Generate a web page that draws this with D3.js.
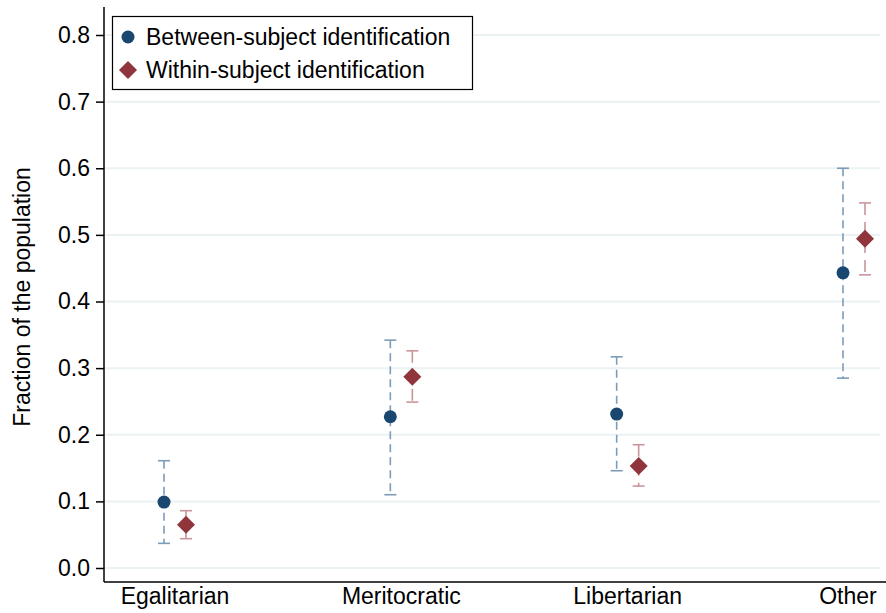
<!DOCTYPE html>
<html>
<head>
<meta charset="utf-8">
<script src="https://cdn.jsdelivr.net/npm/d3@7"></script>
<style>
  body { margin: 0; background: #fff; }
  text { font-family: "Liberation Sans", Arial, sans-serif; fill: #000; }
</style>
</head>
<body>
<div id="chart"></div>
<script>
const categories = ["Egalitarian", "Meritocratic", "Libertarian", "Other"];
const yTicks = [0, 0.1, 0.2, 0.3, 0.4, 0.5, 0.6, 0.7, 0.8];

const betweenValues = [0.099, 0.227, 0.231, 0.443];
const betweenLow = [0.037, 0.110, 0.146, 0.285];
const betweenHigh = [0.161, 0.342, 0.317, 0.600];

const withinValues = [0.065, 0.287, 0.153, 0.494];
const withinLow = [0.044, 0.249, 0.123, 0.440];
const withinHigh = [0.086, 0.326, 0.185, 0.548];

const width = 886, height = 613;
const plotLeft = 104, plotTop = 7, plotBottom = 582;
const fontSize = "23px";

const svg = d3.select("#chart").append("svg")
    .attr("width", width)
    .attr("height", height);

const x = d3.scalePoint()
    .domain(categories)
    .range([175, 854]);

const y = d3.scaleLinear()
    .domain([0, 0.8])
    .range([568, 35]);

// gridlines
svg.append("g")
    .selectAll("line")
    .data(yTicks)
    .join("line")
    .attr("x1", plotLeft + 1)
    .attr("x2", 880)
    .attr("y1", d => y(d))
    .attr("y2", d => y(d))
    .attr("stroke", "#eaf2f3")
    .attr("stroke-width", 2);

// y axis
const yAxis = svg.append("g")
    .attr("transform", `translate(${plotLeft},0)`)
    .call(d3.axisLeft(y).tickValues(yTicks).tickFormat(d3.format(".1f")).tickSize(8).tickPadding(6));
yAxis.select(".domain").remove();
yAxis.selectAll(".tick line").attr("stroke", "#000").attr("stroke-width", 1.5);
yAxis.selectAll(".tick text").style("font-size", fontSize).style("font-family", "Liberation Sans, Arial, sans-serif");

svg.append("line")
    .attr("x1", plotLeft).attr("x2", plotLeft)
    .attr("y1", plotTop).attr("y2", plotBottom)
    .attr("stroke", "#000").attr("stroke-width", 1.5);
svg.append("line")
    .attr("x1", plotLeft).attr("x2", width)
    .attr("y1", plotBottom).attr("y2", plotBottom)
    .attr("stroke", "#000").attr("stroke-width", 1.5);

// x labels
svg.append("g")
    .selectAll("text")
    .data(categories)
    .join("text")
    .attr("x", d => d === "Other" ? x(d) - 6 : x(d))
    .attr("y", 604)
    .attr("text-anchor", "middle")
    .style("font-size", fontSize)
    .text(d => d);

// y title
svg.append("text")
    .attr("transform", `translate(30,297) rotate(-90)`)
    .attr("text-anchor", "middle")
    .style("font-size", fontSize)
    .text("Fraction of the population");

function drawSeries(vals, lo, hi, offset, barColor, dash, cls) {
    const g = svg.append("g").attr("class", cls);
    const data = categories.map((c, i) => ({ c, v: vals[i], lo: lo[i], hi: hi[i] }));
    const cx = d => x(d.c) + offset;
    g.selectAll(".bar").data(data).join("line")
        .attr("x1", cx).attr("x2", cx)
        .attr("y1", d => y(d.hi)).attr("y2", d => y(d.lo))
        .attr("stroke", barColor).attr("stroke-width", 1.6)
        .attr("stroke-dasharray", dash);
    g.selectAll(".capHi").data(data).join("line")
        .attr("x1", d => cx(d) - 6).attr("x2", d => cx(d) + 6)
        .attr("y1", d => y(d.hi)).attr("y2", d => y(d.hi))
        .attr("stroke", barColor).attr("stroke-width", 1.6);
    g.selectAll(".capLo").data(data).join("line")
        .attr("x1", d => cx(d) - 6).attr("x2", d => cx(d) + 6)
        .attr("y1", d => y(d.lo)).attr("y2", d => y(d.lo))
        .attr("stroke", barColor).attr("stroke-width", 1.6);
    return { g, data, cx };
}

const b = drawSeries(betweenValues, betweenLow, betweenHigh, -11, "#7d9cb8", "8,5", "between");
b.g.selectAll("circle").data(b.data).join("circle")
    .attr("cx", b.cx).attr("cy", d => y(d.v)).attr("r", 6.5)
    .attr("fill", "#1a476f");

const w = drawSeries(withinValues, withinLow, withinHigh, 11, "#c9969b", "12,7", "within");
w.g.selectAll("path").data(w.data).join("path")
    .attr("transform", d => `translate(${w.cx(d)},${y(d.v)})`)
    .attr("d", "M0,-9L9,0L0,9L-9,0Z")
    .attr("fill", "#90353b");

// legend
const legend = svg.append("g");
legend.append("rect")
    .attr("x", 112.5).attr("y", 16.5)
    .attr("width", 360).attr("height", 73)
    .attr("fill", "#fff").attr("stroke", "#000").attr("stroke-width", 1.2);
legend.append("circle")
    .attr("cx", 128).attr("cy", 37).attr("r", 6.5).attr("fill", "#1a476f");
legend.append("path")
    .attr("transform", "translate(128,70)")
    .attr("d", "M0,-9L9,0L0,9L-9,0Z")
    .attr("fill", "#90353b");
legend.append("text")
    .attr("x", 146).attr("y", 45)
    .style("font-size", fontSize)
    .text("Between-subject identification");
legend.append("text")
    .attr("x", 146).attr("y", 78)
    .style("font-size", fontSize)
    .text("Within-subject identification");
</script>
</body>
</html>
